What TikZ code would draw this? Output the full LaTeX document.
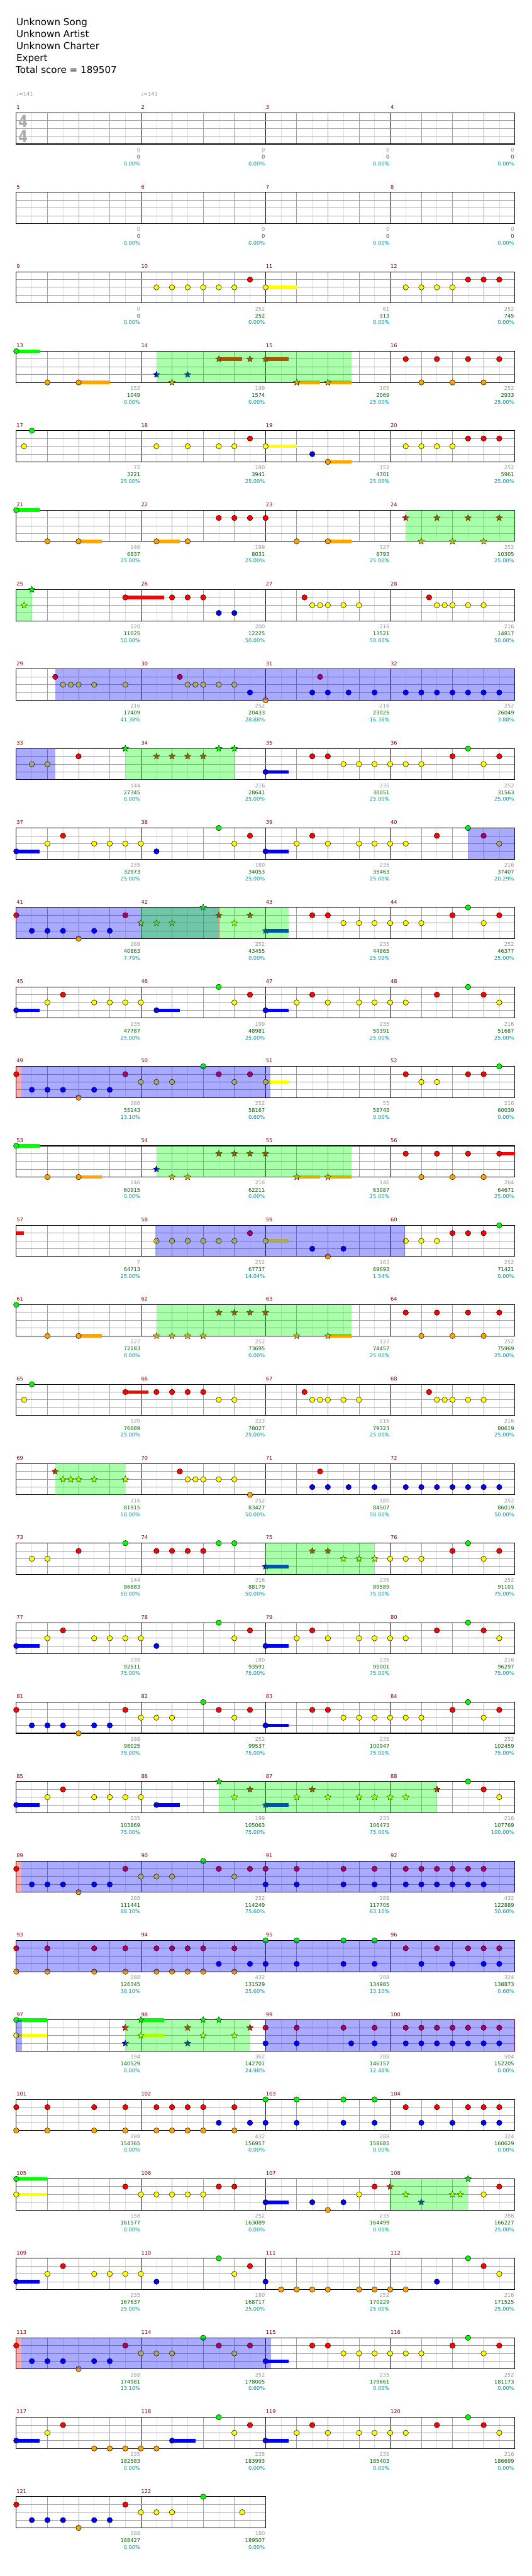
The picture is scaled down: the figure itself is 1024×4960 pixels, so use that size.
\documentclass[tikz,border=0pt]{standalone}
\usepackage{fontspec}
\setmainfont{DejaVu Sans}
\newfontfamily\tsfont[FakeStretch=0.8]{DejaVu Sans}
\usetikzlibrary{shapes.geometric}
\definecolor{cg}{RGB}{0,255,0}
\definecolor{cr}{RGB}{255,0,0}
\definecolor{cy}{RGB}{255,255,0}
\definecolor{cb}{RGB}{0,0,255}
\definecolor{co}{RGB}{255,165,0}
\definecolor{mnumc}{RGB}{139,0,0}
\definecolor{sgray}{RGB}{150,150,150}
\definecolor{sgreen}{RGB}{0,100,0}
\definecolor{steal}{RGB}{0,150,150}
\definecolor{lgrid}{RGB}{222,222,222}
\definecolor{dgrid}{RGB}{160,160,160}
\definecolor{tsgray}{RGB}{170,170,170}
\tikzset{
 lightgrid/.style={lgrid,line width=0.8pt},
 beatgrid/.style={dgrid,line width=0.8pt},
 measgrid/.style={black,line width=0.8pt},
 lanegrid/.style={dgrid,line width=1.1pt},
 border/.style={black,line width=1.3pt},
 notestyle/.style={draw=black,line width=0.6pt},
 starstyle/.style={star,star points=5,star point ratio=2.2,minimum size=13pt,inner sep=0pt,draw=black,line width=0.5pt},
 sc/.style={anchor=base east,inner sep=0pt,font=\fontsize{10}{12}\selectfont},
 mnum/.style={anchor=base west,inner sep=0pt,text=mnumc,font=\fontsize{10}{12}\selectfont},
 hdr/.style={anchor=base west,inner sep=0pt,font=\fontsize{18.3}{22}\selectfont},
 tempo/.style={anchor=base west,inner sep=0pt,text=sgray,font=\fontsize{10}{12}\selectfont},
 tsig/.style={anchor=base,inner sep=0pt,text=tsgray,font=\tsfont\bfseries\fontsize{32}{34}\selectfont},
}
\newcommand\px[1]{31.33+30*(#1)}
\newcommand\setrow[1]{\pgfmathsetmacro\rowtop{217.3+153*(#1-1)}}
\newcommand\staff[1]{%
  \pgfmathsetmacro\sw{240*#1}%
  \pgfmathtruncatemacro\ea{8*#1-1}%
  \pgfmathtruncatemacro\eb{8*#1-2}%
  \pgfmathtruncatemacro\ec{8*#1-8}%
  \foreach \i in {1,...,\ea}{\draw[lightgrid] ({\px{\i}},\rowtop) -- ++(0,60);}%
  \foreach \i in {2,4,...,\eb}{\draw[beatgrid] ({\px{\i}},\rowtop) -- ++(0,60);}%
  \foreach \i in {8,16,...,\ec}{\draw[measgrid] ({\px{\i}},\rowtop) -- ++(0,60);}%
  \foreach \l in {1,2,3}{\draw[lanegrid] (31.33,{\rowtop+15*\l}) -- ++(\sw,0);}%
  \draw[border] (31.33,\rowtop) rectangle ++(\sw,60);%
}
\newcommand\nt[3]{\filldraw[notestyle,fill=#1] ({\px{#2}},{\rowtop+15*(#3)}) circle[radius=5.2];}
\newcommand\qG[1]{\foreach \p in {#1}{\nt{cg}{\p}{0}}}
\newcommand\qR[1]{\foreach \p in {#1}{\nt{cr}{\p}{1}}}
\newcommand\qY[1]{\foreach \p in {#1}{\nt{cy}{\p}{2}}}
\newcommand\qB[1]{\foreach \p in {#1}{\nt{cb}{\p}{3}}}
\newcommand\qO[1]{\foreach \p in {#1}{\nt{co}{\p}{4}}}
\newcommand\sn[3]{\node[starstyle,fill=#1] at ({\px{#2}},{\rowtop+15*(#3)}) {};}
\newcommand\xG[1]{\foreach \p in {#1}{\sn{cg}{\p}{0}}}
\newcommand\xR[1]{\foreach \p in {#1}{\sn{cr}{\p}{1}}}
\newcommand\xY[1]{\foreach \p in {#1}{\sn{cy}{\p}{2}}}
\newcommand\xB[1]{\foreach \p in {#1}{\sn{cb}{\p}{3}}}
\newcommand\xO[1]{\foreach \p in {#1}{\sn{co}{\p}{4}}}
\newcommand\su[4]{\fill[#1] ({\px{#3}},{\rowtop+15*(#2)-3.4}) rectangle ({\px{#4}},{\rowtop+15*(#2)+3.4});}
\newcommand\spG[2]{\fill[cg,fill opacity=0.333] ({\px{#1}},\rowtop) rectangle ({\px{#2}},{\rowtop+60});}
\newcommand\spB[2]{\fill[cb,fill opacity=0.333] ({\px{#1}},\rowtop) rectangle ({\px{#2}},{\rowtop+60});}
\newcommand\spP[2]{\fill[cr,fill opacity=0.333] ({\px{#1}},\rowtop) rectangle ({\px{#2}},{\rowtop+60});}
\newcommand\rl[1]{\draw[cr,opacity=0.45,line width=1pt] ({\px{#1}},\rowtop) -- ++(0,60);}
\newcommand\mnums[2]{\foreach \k in {1,...,#2}{\pgfmathtruncatemacro\mm{#1+\k-1}\node[mnum] at ({31.83+240*(\k-1)},{\rowtop-7}) {\mm};}}
\newcommand\scr[4]{%
 \node[sc,sgray] at ({30.33+240*#1},{\rowtop+75}) {#2};%
 \node[sc,sgreen] at ({30.33+240*#1},{\rowtop+88.4}) {#3};%
 \node[sc,steal] at ({30.33+240*#1},{\rowtop+101.4}) {#4\%};}
\begin{document}
\begin{tikzpicture}[x=1pt,y=-1pt]
\fill[white] (0,0) rectangle (1024,4960);
\useasboundingbox (0,0) rectangle (1024,4960);
% header
\node[hdr] (song) at (31.3,48.7) {Unknown Song};
\node[hdr] (artist) at (31.3,71.9) {Unknown Artist};
\node[hdr] (charter) at (31.3,95.1) {Unknown Charter};
\node[hdr] (diff) at (31.3,118.3) {Expert};
\node[hdr] (total) at (30.3,141.5) {Total score = 189507};
% row 1
\setrow{1}\staff{4}\mnums{1}{4}
\node[tsig] (ts1) at (44.5,245) {4};
\node[tsig] (ts2) at (44.5,274.5) {4};
\node[tempo] (tp1) at (31.3,184.3) {♩=141};
\node[tempo] (tp2) at (271.3,184.3) {♩=141};
\scr{1}{0}{0}{0.00}\scr{2}{0}{0}{0.00}\scr{3}{0}{0}{0.00}\scr{4}{0}{0}{0.00}
% row 2
\setrow{2}\staff{4}\mnums{5}{4}
\scr{1}{0}{0}{0.00}\scr{2}{0}{0}{0.00}\scr{3}{0}{0}{0.00}\scr{4}{0}{0}{0.00}
% row 3
\setrow{3}\staff{4}\mnums{9}{4}
\su{cy}{2}{16}{18}
\qY{9,10,11,12,13,14,16,25,26,27,28}\qR{15,29,30,31}
\scr{1}{0}{0}{0.00}\scr{2}{252}{252}{0.00}\scr{3}{61}{313}{0.00}\scr{4}{252}{745}{0.00}
% row 4
\setrow{4}\staff{4}\mnums{13}{4}
\su{cg}{0}{0}{1.5}\su{co}{4}{4}{6}\su{cr}{1}{13}{14.5}\su{cr}{1}{16}{17.5}\su{co}{4}{18}{19.5}\su{co}{4}{20}{21.5}
\qG{0}\qO{2,4,26,28,30}\qR{25,27,29,31}
\xB{9,11}\xO{10,18,20}\xR{13,15,16}
\spG{9}{21.5}
\scr{1}{152}{1049}{0.00}\scr{2}{199}{1574}{0.00}\scr{3}{165}{2069}{25.00}\scr{4}{252}{2933}{25.00}
% row 5
\setrow{5}\staff{4}\mnums{17}{4}
\su{cy}{2}{16}{18}\su{co}{4}{20}{21.5}
\qG{1}\qY{0.5,9,11,13,14,16,25,26,27,28}\qR{15,29,30,31}\qB{19}\qO{20}
\scr{1}{72}{3221}{25.00}\scr{2}{180}{3941}{25.00}\scr{3}{152}{4701}{25.00}\scr{4}{252}{5961}{25.00}
% row 6
\setrow{6}\staff{4}\mnums{21}{4}
\su{cg}{0}{0}{1.5}\su{co}{4}{4}{5.5}\su{co}{4}{9}{10.5}\su{co}{4}{20}{21.5}
\qG{0}\qO{2,4,9,11,18,20}\qR{13,14,15,16}
\xR{25,27,29,31}\xO{26,28,30}
\spG{25}{32}
\scr{1}{146}{6837}{25.00}\scr{2}{199}{8031}{25.00}\scr{3}{127}{8793}{25.00}\scr{4}{252}{10305}{25.00}
% row 7
\setrow{7}\staff{4}\mnums{25}{4}
\su{cr}{1}{7}{9.5}
\xG{1}\xY{0.5}
\qR{7,10,11,12,18.5,26.5}\qB{13,14}\qY{19,19.5,20,21,22,27,27.5,28,29,30}
\spG{0}{1}
\scr{1}{120}{11025}{50.00}\scr{2}{200}{12225}{50.00}\scr{3}{216}{13521}{50.00}\scr{4}{216}{14817}{50.00}
% row 8
\setrow{8}\staff{4}\mnums{29}{4}
\qR{2.5,10.5,19.5}\qY{3,3.5,4,5,7,11,11.5,12,13,14}\qB{15,19,20,21.33,23,25,26,27,28,29,30,31}\qO{16}
\spB{2.5}{32}
\scr{1}{216}{17409}{41.38}\scr{2}{252}{20433}{28.88}\scr{3}{216}{23025}{16.38}\scr{4}{252}{26049}{3.88}
% row 9
\setrow{9}\staff{4}\mnums{33}{4}
\su{cb}{3}{16}{17.5}
\qY{1,2,21,22,23,24,25,26,30}\qR{4,19,20,28,31}\qB{16}\qG{29}
\xG{7,13,14}\xR{9,10,11,12}
\spB{0}{2.5}\spG{7}{14}
\scr{1}{144}{27345}{0.00}\scr{2}{216}{28641}{25.00}\scr{3}{235}{30051}{25.00}\scr{4}{252}{31563}{25.00}
% row 10
\setrow{10}\staff{4}\mnums{37}{4}
\su{cb}{3}{0}{1.5}\su{cb}{3}{16}{17.5}
\qB{0,9,16}\qY{2,5,6,7,8,14,18,20,22,23,24,25,31}\qR{3,15,19,27,30}\qG{13,29}
\spB{29}{32}
\scr{1}{235}{32973}{25.00}\scr{2}{180}{34053}{25.00}\scr{3}{235}{35463}{25.00}\scr{4}{216}{37407}{20.29}
% row 11
\setrow{11}\staff{4}\mnums{41}{4}
\su{cb}{3}{16}{17.5}
\qR{0,7,19,20,28,31}\qB{1,2,3,5,6}\qO{4}\qY{21,22,23,24,25,26,30}\qG{29}
\xY{8,9,10,14}\xG{12}\xR{13,15}\xB{16}
\spB{0}{13}\spG{8}{17.5}\rl{13}
\scr{1}{288}{40863}{7.79}\scr{2}{252}{43455}{0.00}\scr{3}{235}{44865}{25.00}\scr{4}{252}{46377}{25.00}
% row 12
\setrow{12}\staff{4}\mnums{45}{4}
\su{cb}{3}{0}{1.5}\su{cb}{3}{9}{10.5}\su{cb}{3}{16}{17.5}
\qB{0,9,16}\qY{2,5,6,7,8,14,18,20,22,23,24,25,31}\qR{3,15,19,27,30}\qG{13,29}
\scr{1}{235}{47787}{25.00}\scr{2}{199}{48981}{25.00}\scr{3}{235}{50391}{25.00}\scr{4}{216}{51687}{25.00}
% row 13
\setrow{13}\staff{4}\mnums{49}{4}
\su{cy}{2}{16}{17.5}
\qR{0,7,13,15,25,29,30}\qB{1,2,3,5,6}\qO{4}\qY{8,9,10,14,16,26,27}\qG{12,31}
\spP{0}{0.33}\spB{0.33}{16.33}
\scr{1}{288}{55143}{13.10}\scr{2}{252}{58167}{0.60}\scr{3}{55}{58743}{0.00}\scr{4}{216}{60039}{0.00}
% row 14
\setrow{14}\staff{4}\mnums{53}{4}
\su{cg}{0}{0}{1.5}\su{co}{4}{4}{5.5}\su{co}{4}{18}{19.5}\su{co}{4}{20}{21.5}\su{cr}{1}{31}{32}
\qG{0}\qO{2,4,26,28,30}\qR{25,27,29,31}
\xB{9}\xO{10,11,18,20}\xR{13,14,15,16}
\spG{9}{21.5}
\scr{1}{146}{60915}{0.00}\scr{2}{216}{62211}{0.00}\scr{3}{146}{63087}{25.00}\scr{4}{264}{64671}{25.00}
% row 15
\setrow{15}\staff{4}\mnums{57}{4}
\su{cr}{1}{0}{0.5}\su{cy}{2}{16}{17.5}
\qY{9,10,11,12,13,14,16,25,26,27}\qR{15,28,29,30}\qB{19,21}\qO{20}\qG{31}
\spB{8.93}{24.93}\rl{24.93}
\scr{1}{7}{64713}{25.00}\scr{2}{252}{67737}{14.04}\scr{3}{163}{69693}{1.54}\scr{4}{252}{71421}{0.00}
% row 16
\setrow{16}\staff{4}\mnums{61}{4}
\su{co}{4}{4}{5.5}\su{co}{4}{20}{21.5}
\qG{0}\qO{2,4,26,28,30}\qR{25,27,29,31}
\xO{9,10,11,12,18,20}\xR{13,14,15,16}
\spG{9}{21.5}
\scr{1}{127}{72183}{0.00}\scr{2}{252}{73695}{0.00}\scr{3}{127}{74457}{25.00}\scr{4}{252}{75969}{25.00}
% row 17
\setrow{17}\staff{4}\mnums{65}{4}
\su{cr}{1}{7}{8.5}
\qG{1}\qY{0.5,13,14,19,19.5,20,21,22,27,27.5,28,29,30}\qR{7,9,10,11,12,18.5,26.5}
\scr{1}{120}{76689}{25.00}\scr{2}{223}{78027}{25.00}\scr{3}{216}{79323}{25.00}\scr{4}{216}{80619}{25.00}
% row 18
\setrow{18}\staff{4}\mnums{69}{4}
\xR{2.5}\xY{3,3.5,4,5,7}
\qR{10.5,19.5}\qY{11,11.5,12,13,14}\qO{15}\qB{19,20,21.33,23,25,26,27,28,29,30,31}
\spG{2.5}{7}
\scr{1}{216}{81915}{50.00}\scr{2}{252}{83427}{50.00}\scr{3}{180}{84507}{50.00}\scr{4}{252}{86019}{50.00}
% row 19
\setrow{19}\staff{4}\mnums{73}{4}
\su{cb}{3}{16}{17.5}
\qY{1,2,24,25,26,30}\qR{4,9,10,11,12,28,31}\qG{7,13,14,29}
\xB{16}\xR{19,20}\xY{21,22,23}
\spG{16}{23}
\scr{1}{144}{86883}{50.00}\scr{2}{216}{88179}{50.00}\scr{3}{235}{89589}{75.00}\scr{4}{252}{91101}{75.00}
% row 20
\setrow{20}\staff{4}\mnums{77}{4}
\su{cb}{3}{0}{1.5}\su{cb}{3}{16}{17.5}
\qB{0,9,16}\qY{2,5,6,7,8,14,18,20,22,23,24,25,31}\qR{3,15,19,27,30}\qG{13,29}
\scr{1}{235}{92511}{75.00}\scr{2}{180}{93591}{75.00}\scr{3}{235}{95001}{75.00}\scr{4}{216}{96297}{75.00}
% row 21
\setrow{21}\staff{4}\mnums{81}{4}
\su{cb}{3}{16}{17.5}
\qR{0,7,13,15,19,20,28,31}\qB{1,2,3,5,6,16}\qO{4}\qY{8,9,10,14,21,22,23,24,25,26,30}\qG{12,29}
\scr{1}{288}{98025}{75.00}\scr{2}{252}{99537}{75.00}\scr{3}{235}{100947}{75.00}\scr{4}{252}{102459}{75.00}
% row 22
\setrow{22}\staff{4}\mnums{85}{4}
\su{cb}{3}{0}{1.5}\su{cb}{3}{9}{10.5}\su{cb}{3}{16}{17.5}
\qB{0,9}\qY{2,5,6,7,8,31}\qR{3,30}\qG{29}
\xG{13}\xY{14,18,20,22,23,24,25}\xR{15,19,27}\xB{16}
\spG{13}{27}
\scr{1}{235}{103869}{75.00}\scr{2}{199}{105063}{75.00}\scr{3}{235}{106473}{75.00}\scr{4}{216}{107769}{100.00}
% row 23
\setrow{23}\staff{4}\mnums{89}{4}
\qR{0,7,13,15,16,18,21,23,25,26,27,28,29,30}\qB{1,2,3,5,6,16,18,21,23,25,26,27,28,29,30}\qO{4}\qY{8,9,10,14}\qG{12}
\spP{0}{0.33}\spB{0.33}{32}
\scr{1}{288}{111441}{88.10}\scr{2}{252}{114249}{75.60}\scr{3}{288}{117705}{63.10}\scr{4}{432}{122889}{50.60}
% row 24
\setrow{24}\staff{4}\mnums{93}{4}
\qR{0,2,5,7,9,10,11,12,14,25,27,29,30,31}\qO{0,2,5,7,9,10,11,12,14}\qB{13,15,16,18,21,23,26,28,30,31}\qG{16,18,21,23}
\spB{0}{32}
\scr{1}{288}{126345}{38.10}\scr{2}{432}{131529}{25.60}\scr{3}{288}{134985}{13.10}\scr{4}{324}{138873}{0.60}
% row 25
\setrow{25}\staff{4}\mnums{97}{4}
\su{cg}{0}{0}{2}\su{cy}{2}{0}{2}\su{cg}{0}{8}{9.5}\su{cy}{2}{8}{9.5}
\qG{0}\qY{0}
\xR{7,11,15}\xB{7,11}\xG{8,12,13}\xY{8,12,14}
\qR{16,18,21,23,25,26,27,28,29,30,31}\qB{16,18,21.5,23,25,26,27,28,29,30,31}
\spB{0}{0.35}\spG{7}{15}\spB{16}{32}\rl{32}
\scr{1}{194}{140529}{0.00}\scr{2}{362}{142701}{24.98}\scr{3}{288}{146157}{12.48}\scr{4}{504}{152205}{0.00}
% row 26
\setrow{26}\staff{4}\mnums{101}{4}
\qR{0,2,5,7,9,10,11,12,14,25,27,29,30,31}\qO{0,2,5,7,9,10,11,12,14}\qB{13,15,16,18,21,23,26,28,30,31}\qG{16,18,21,23}
\scr{1}{288}{154365}{0.00}\scr{2}{432}{156957}{0.00}\scr{3}{288}{158685}{0.00}\scr{4}{324}{160629}{0.00}
% row 27
\setrow{27}\staff{4}\mnums{105}{4}
\su{cg}{0}{0}{2}\su{cy}{2}{0}{2}\su{cb}{3}{16}{17.5}
\qG{0}\qY{0,8,9,10,11,12,22,30}\qR{7,13,14,23,31}\qB{16,19,21}\qO{20}
\xR{24}\xY{25,28,28.5}\xB{26}\xG{29}
\spG{24}{29}
\scr{1}{158}{161577}{0.00}\scr{2}{252}{163089}{0.00}\scr{3}{235}{164499}{0.00}\scr{4}{288}{166227}{25.00}
% row 28
\setrow{28}\staff{4}\mnums{109}{4}
\su{cb}{3}{0}{1.5}
\qB{0,9,16,27}\qY{2,5,6,7,8,14,31}\qR{3,15,30}\qG{13,29}\qO{17,18,19,20,22,23,24,25}
\scr{1}{235}{167637}{25.00}\scr{2}{180}{168717}{25.00}\scr{3}{252}{170229}{25.00}\scr{4}{216}{171525}{25.00}
% row 29
\setrow{29}\staff{4}\mnums{113}{4}
\su{cb}{3}{16}{17.5}
\qR{0,7,13,15,19,20,28,31}\qB{1,2,3,5,6,16}\qO{4}\qY{8,9,10,14,21,22,23,24,25,26,30}\qG{12,29}
\spP{0}{0.33}\spB{0.33}{16.35}
\scr{1}{288}{174981}{13.10}\scr{2}{252}{178005}{0.60}\scr{3}{235}{179661}{0.00}\scr{4}{252}{181173}{0.00}
% row 30
\setrow{30}\staff{4}\mnums{117}{4}
\su{cb}{3}{0}{1.5}\su{cb}{3}{10}{11.5}\su{cb}{3}{16}{17.5}
\qB{0,10,16}\qY{2,14,18,20,22,23,24,25,31}\qR{3,15,19,27,30}\qO{5,6,7,8,9}\qG{13,29}
\scr{1}{235}{182583}{0.00}\scr{2}{235}{183993}{0.00}\scr{3}{235}{185403}{0.00}\scr{4}{216}{186699}{0.00}
% row 31
\setrow{31}\staff{2}\mnums{121}{2}
\qR{0,7}\qB{1,2,3,5,6}\qO{4}\qY{8,9,10,14.5}\qG{12}
\scr{1}{288}{188427}{0.00}\scr{2}{180}{189507}{0.00}
\end{tikzpicture}
\end{document}
